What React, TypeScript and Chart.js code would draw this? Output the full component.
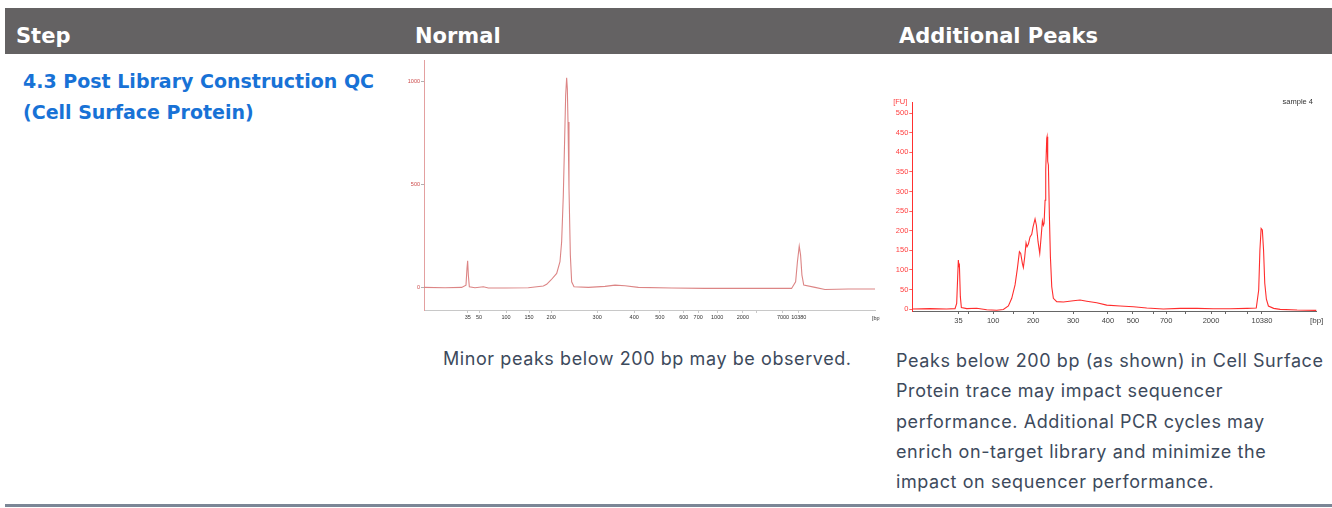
import React, { useEffect, useRef } from 'react';
import { Chart, registerables } from 'chart.js';

Chart.register(...registerables);

// ---------- "Normal" electropherogram ----------
// ladder positions on the migration axis and their bp labels
const normalLadderTime = [9.7, 12.2, 18.2, 23.3, 28.2, 38.4, 46.6, 52.3, 57.6, 60.8, 65.0, 70.7, 73.8, 79.6, 83.1];
const normalLadderBp = ['35', '50', '100', '150', '200', '300', '400', '500', '600', '700', '1000', '2000', '', '7000', '10380'];
const normalYTicks = [0, 500, 1000];
const normalTime = [0, 4.66, 8.35, 9.31, 9.53, 9.68, 9.83, 10.05, 11.3, 13.16, 14.26, 17.96, 23.13, 26.46, 27.2, 28.16, 29.42, 30.15, 30.52, 30.89, 31.19, 31.41, 31.63, 31.78, 31.93, 32.15, 32.45, 32.74, 33.26, 36.44, 40.13, 42.35, 44.57, 47.52, 54.9, 62.3, 69.7, 77.1, 81.5, 82.4, 82.8, 83.2, 83.5, 83.8, 84.2, 86.7, 88.9, 94.1, 100];
const normalFU = [0, -1.6, 0, 11, 92, 130, 60, 3, -2, 3, -3, -3, -2, 6.5, 15, 36, 68, 125, 222, 449, 724, 935, 1020, 968, 805, 481, 157, 27, 3, 0, 5, 11, 8, 0, -3, -5, -5, -5, -5, 27, 125, 201, 157, 60, 11, 0, -10, -8, -8];

// ---------- "Additional Peaks" electropherogram ----------
const addLadderTime = [11.4, 14.0, 20.0, 25.0, 29.9, 39.8, 48.4, 54.6, 59.7, 62.8, 67.5, 73.9, 77.4, 82.9, 86.5];
const addLadderBp = ['35', '', '100', '', '200', '300', '400', '500', '', '700', '', '2000', '', '', '10380'];
const addYTicks = [0, 50, 100, 150, 200, 250, 300, 350, 400, 450, 500];
const addTime = [0, 4.38, 8.5, 10.57, 10.98, 11.23, 11.39, 11.56, 11.64, 11.89, 12.14, 13.46, 15.93, 18.41, 20.88, 22.53, 23.77, 24.6, 25.42, 26.0, 26.5, 26.82, 27.24, 27.48, 27.81, 28.14, 28.39, 28.72, 29.13, 29.55, 29.88, 30.37, 30.7, 31.11, 31.53, 31.94, 32.19, 32.43, 32.6, 32.85, 33.01, 33.26, 33.34, 33.5, 33.67, 33.92, 34.17, 34.5, 34.9, 35.73, 37.38, 39.85, 41.5, 43.16, 45.63, 48.1, 51.4, 54.7, 58.0, 62.1, 66.3, 70.4, 74.5, 78.6, 82.8, 85.1, 85.7, 86.0, 86.3, 86.6, 86.9, 87.2, 87.6, 88.1, 89.4, 91.0, 95.2, 100];
const addFU = [0, 1, 0, 1, 14.5, 82.6, 125, 108, 116, 31, 4, 1, 2, -2, -3, -1, 8, 27.5, 61.6, 104, 146.5, 142, 116, 106, 133, 169, 159, 166, 184, 191, 210, 230, 214, 172, 142, 193, 225, 214, 219, 278, 355, 436, 440, 377, 368, 236, 133, 57, 27.5, 19, 18, 21, 23, 20, 16, 10, 7.7, 6, 2.6, 0, 1.7, 1.7, 0.9, 0.9, 1.7, 2.6, 48.6, 151, 206, 202, 151, 66, 25, 7.7, 1.7, -0.9, -2.6, -3.4];

// ---------- table text ----------
const headers = ['Step', 'Normal', 'Additional Peaks'];
const stepLines = ['4.3 Post Library Construction QC', '(Cell Surface Protein)'];
const normalNote = ['Minor peaks below 200 bp may be observed.'];
const addNote = [
  'Peaks below 200 bp (as shown) in Cell Surface',
  'Protein trace may impact sequencer',
  'performance. Additional PCR cycles may',
  'enrich on-target library and minimize the',
  'impact on sequencer performance.',
];

const cornerLabels = {
  id: 'cornerLabels',
  afterDraw(chart: any, _args: any, opts: any) {
    const { ctx, chartArea } = chart;
    ctx.save();
    for (const it of opts.items || []) {
      ctx.font = it.font;
      ctx.fillStyle = it.color;
      ctx.textAlign = it.align;
      ctx.textBaseline = 'middle';
      const x = (it.ax === 'left' ? chartArea.left : chartArea.right) + it.dx;
      const y = (it.ay === 'top' ? chartArea.top : chartArea.bottom) + it.dy;
      ctx.fillText(it.text, x, y);
    }
    ctx.restore();
  },
};

function buildConfig(p: any) {
  return {
    type: 'line',
    data: {
      datasets: [
        {
          data: p.time.map((t: number, i: number) => ({ x: t, y: p.fu[i] })),
          borderColor: p.lineColor,
          borderWidth: p.lineWidth,
          pointRadius: 0,
          tension: 0,
          fill: false,
        },
      ],
    },
    options: {
      animation: false,
      responsive: false,
      maintainAspectRatio: false,
      events: [],
      layout: { padding: { top: p.padTop, right: p.padRight, left: 0, bottom: 0 } },
      plugins: {
        legend: { display: false },
        tooltip: { enabled: false },
        cornerLabels: { items: p.labels },
      },
      scales: {
        x: {
          type: 'linear',
          min: 0,
          max: 100,
          afterFit: (s: any) => {
            s.height = p.xAxisH;
          },
          afterBuildTicks: (s: any) => {
            s.ticks = p.ladderTime.map((v: number) => ({ value: v }));
          },
          ticks: {
            autoSkip: false,
            maxRotation: 0,
            minRotation: 0,
            padding: p.xTickPad,
            color: p.xTickColor,
            font: { family: 'Liberation Sans', size: p.xFont },
            callback: (_v: any, i: number) => p.ladderBp[i],
          },
          grid: { drawOnChartArea: false, drawTicks: true, tickLength: 3, tickColor: p.xAxisColor, color: p.xAxisColor },
          border: { display: true, color: p.xAxisColor, width: 1 },
        },
        y: {
          type: 'linear',
          min: p.yMin,
          max: p.yMax,
          afterFit: (s: any) => {
            s.width = p.yAxisW;
          },
          afterBuildTicks: (s: any) => {
            s.ticks = p.yTicks.map((v: number) => ({ value: v }));
          },
          ticks: {
            padding: 1,
            color: p.yTickColor,
            font: { family: 'Liberation Sans', size: p.yFont },
            callback: (v: any) => String(v),
          },
          grid: { drawOnChartArea: false, drawTicks: true, tickLength: 3, tickColor: p.yTickMarkColor, color: p.yTickMarkColor },
          border: { display: true, color: p.yAxisColor, width: 1 },
        },
      },
    },
    plugins: [cornerLabels],
  };
}

function TraceChart({ left, top, width, height, params }: any) {
  const ref = useRef<HTMLCanvasElement>(null);
  useEffect(() => {
    const chart = new Chart(ref.current as HTMLCanvasElement, buildConfig(params) as any);
    return () => chart.destroy();
  }, []);
  return (
    <canvas
      ref={ref}
      width={width}
      height={height}
      style={{ position: 'absolute', left, top, width, height }}
    />
  );
}

const normalParams = {
  time: normalTime,
  fu: normalFU,
  ladderTime: normalLadderTime,
  ladderBp: normalLadderBp,
  yTicks: normalYTicks,
  yMin: -110,
  yMax: 1105,
  lineColor: '#dc8585',
  lineWidth: 1.1,
  padTop: 4,
  padRight: 5,
  xAxisH: 20,
  yAxisW: 16,
  xTickPad: 1,
  xFont: 5.5,
  yFont: 5.5,
  xTickColor: '#333333',
  yTickColor: '#cc4a4a',
  xAxisColor: '#c8c8c8',
  yAxisColor: '#e3a0a0',
  yTickMarkColor: '#b0b0b0',
  labels: [
    { text: '[bp]', ax: 'right', dx: -3, ay: 'bottom', dy: 8, align: 'left', font: '5.5px "Liberation Sans"', color: '#333333' },
  ],
};

const addParams = {
  time: addTime,
  fu: addFU,
  ladderTime: addLadderTime,
  ladderBp: addLadderBp,
  yTicks: addYTicks,
  yMin: -5,
  yMax: 528,
  lineColor: '#ff2d2d',
  lineWidth: 1.1,
  padTop: 7.3,
  padRight: 13.5,
  xAxisH: 19,
  yAxisW: 27.3,
  xTickPad: 2,
  xFont: 7.5,
  yFont: 7.5,
  xTickColor: '#444444',
  yTickColor: '#ff4040',
  xAxisColor: '#666666',
  yAxisColor: '#ff3030',
  yTickMarkColor: '#ff6060',
  labels: [
    { text: '[bp]', ax: 'right', dx: -6.5, ay: 'bottom', dy: 9.7, align: 'left', font: '8px "Liberation Sans"', color: '#444444' },
    { text: '[FU]', ax: 'left', dx: -5, ay: 'top', dy: -0.5, align: 'right', font: '7.5px "Liberation Sans"', color: '#ff4040' },
    { text: 'sample 4', ax: 'right', dx: -3.5, ay: 'top', dy: -0.6, align: 'right', font: '7.5px "Liberation Sans"', color: '#333333' },
  ],
};

const headerX = [16, 415, 899];

export default function App() {
  const bodyFont = 'Inter, "Noto Sans", sans-serif';
  const noteStyle = {
    position: 'absolute' as const,
    fontFamily: bodyFont,
    fontSize: 18,
    letterSpacing: '0.58px',
    lineHeight: '30.3px',
    color: '#3d4a5c',
    whiteSpace: 'nowrap' as const,
  };
  return (
    <div style={{ position: 'absolute', left: 0, top: 0, width: 1332, height: 508, background: '#ffffff', overflow: 'hidden' }}>
      <div style={{ position: 'absolute', left: 5, top: 8, width: 1327, height: 46, background: '#646263' }} />
      {headers.map((h, i) => (
        <div
          key={h}
          style={{
            position: 'absolute',
            left: headerX[i],
            top: 25.5,
            fontFamily: '"DejaVu Sans", sans-serif',
            fontWeight: 700,
            fontSize: 21,
            lineHeight: '21px',
            color: '#ffffff',
            whiteSpace: 'nowrap',
          }}
        >
          {h}
        </div>
      ))}
      <div
        style={{
          position: 'absolute',
          left: 23,
          top: 66,
          fontFamily: '"DejaVu Sans", sans-serif',
          fontWeight: 700,
          fontSize: 19,
          lineHeight: '31px',
          color: '#1872d6',
          whiteSpace: 'nowrap',
        }}
      >
        {stepLines.map((l) => (
          <div key={l}>{l}</div>
        ))}
      </div>

      <TraceChart left={408} top={56} width={472} height={274} params={normalParams} />
      <TraceChart left={885} top={95} width={445} height={235} params={addParams} />

      <div style={{ ...noteStyle, left: 443, top: 344 }}>
        {normalNote.map((l) => (
          <div key={l}>{l}</div>
        ))}
      </div>
      <div style={{ ...noteStyle, left: 896, top: 346 }}>
        {addNote.map((l) => (
          <div key={l}>{l}</div>
        ))}
      </div>

      <div style={{ position: 'absolute', left: 5, top: 504, width: 1327, height: 3, background: '#7b8696' }} />
    </div>
  );
}
